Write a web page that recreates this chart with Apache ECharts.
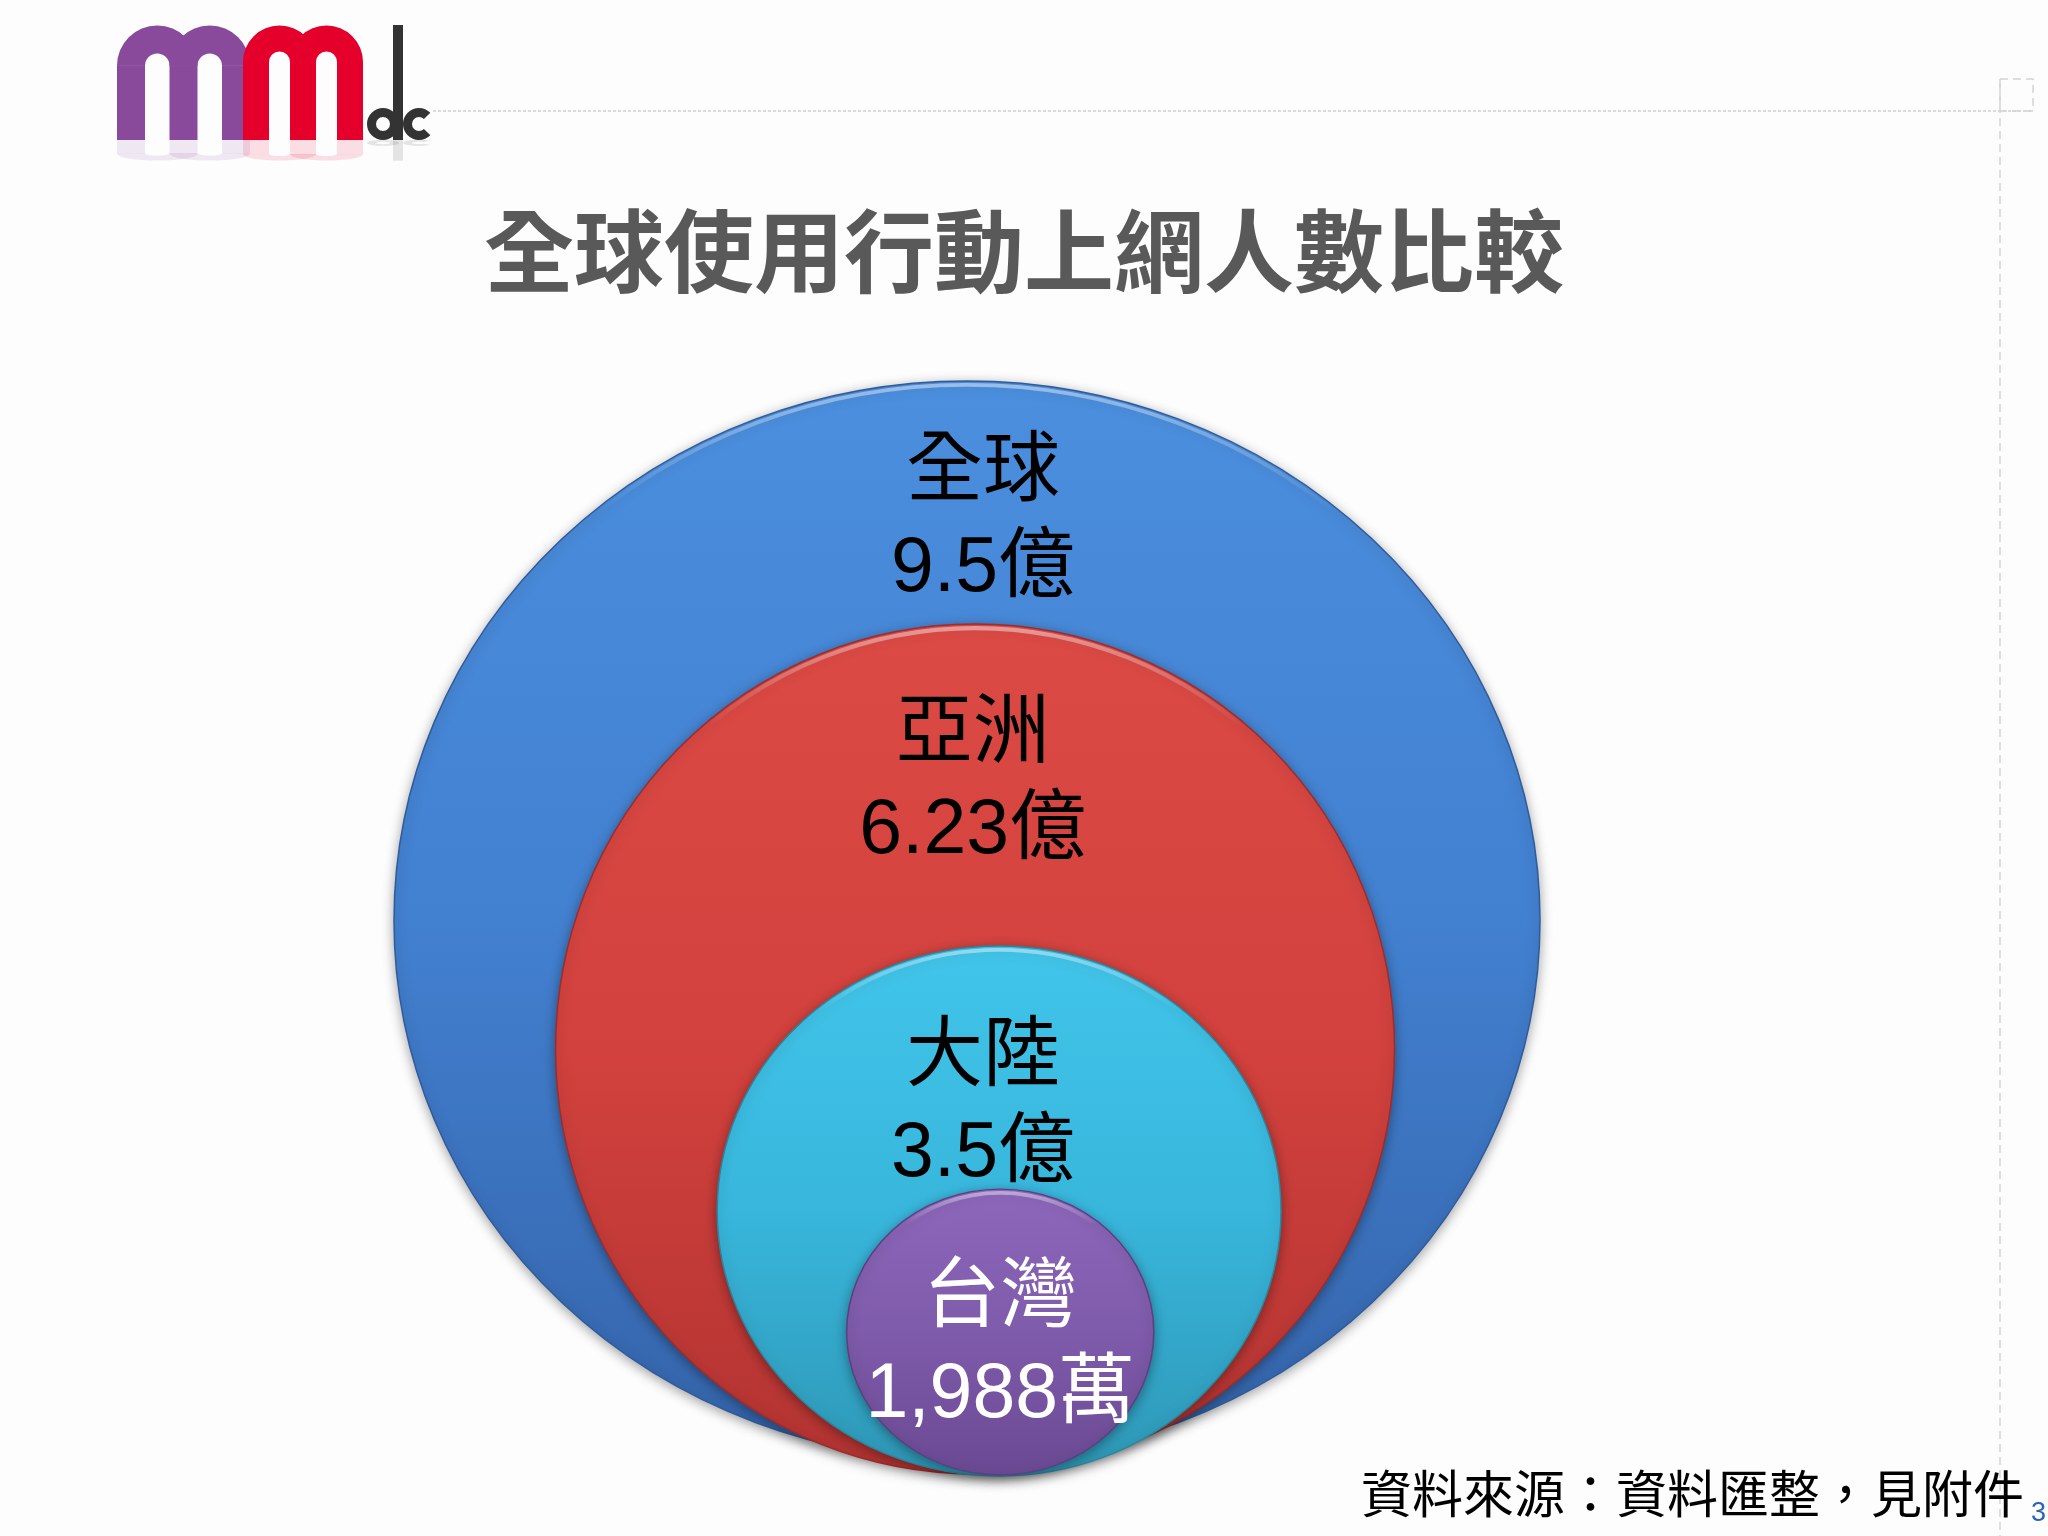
<!DOCTYPE html>
<html>
<head>
<meta charset="utf-8">
<title>全球使用行動上網人數比較</title>
<script src="https://cdn.jsdelivr.net/npm/echarts@6/dist/echarts.min.js"></script>
<style>
  html, body { margin: 0; padding: 0; background: #fdfdfd; }
  #main { width: 2048px; height: 1536px; }
</style>
</head>
<body>
<div id="main"></div>
<script>
// 資料
var regions = ['全球', '亞洲', '大陸', '台灣']
var users = [9.5, 6.23, 3.5, 0.1988] // 單位：億
var userLabels = ['9.5億', '6.23億', '3.5億', '1,988萬']

// 圓圈版面：外框座標 0~100（SmartArt 式同心圓，圓圈大小與數值無關）
var ringLayout = [
  { cx: 50, rx: 50, top: 100, bottom: 1.4, labelX: 51.4, labelY: 87.1 },
  { cx: 50.7, rx: 36.6, top: 77.8, bottom: 0.2, labelX: 50.5, labelY: 63.2 },
  { cx: 52.8, rx: 24.6, top: 48.4, bottom: 0, labelX: 51.4, labelY: 33.7 },
  { cx: 52.9, rx: 13.4, top: 26.2, bottom: 0.1, labelX: 52.9, labelY: 11.7 }
]
var ringColors = [
  ['#4b8fde', '#4280d0', '#3463a9', '#2f5b9c'],
  ['#dc4a45', '#d2413d', '#b23331', '#9e2c2a'],
  ['#41c5ea', '#38b6dc', '#2e97b6', '#2a869f'],
  ['#8d67bb', '#7f5bab', '#6a4993', '#5c3f82']
]
var textColors = ['#000', '#000', '#000', '#fff']

function renderRing (params, api) {
  var i = params.dataIndex
  var box = ringLayout[i]
  var c = ringColors[i]
  var p0 = api.coord([box.cx - box.rx, box.top])
  var p1 = api.coord([box.cx + box.rx, box.bottom])
  var lp = api.coord([box.labelX, box.labelY])
  var cx = (p0[0] + p1[0]) / 2
  var cy = (p0[1] + p1[1]) / 2
  var rx = (p1[0] - p0[0]) / 2
  var ry = (p1[1] - p0[1]) / 2
  return {
    type: 'group',
    children: [
      {
        type: 'circle',
        x: cx,
        y: cy,
        scaleY: ry / rx,
        shape: { cx: 0, cy: 0, r: rx },
        style: {
          fill: new echarts.graphic.LinearGradient(0, 0, 0, 1, [
            { offset: 0, color: c[0] },
            { offset: 0.5, color: c[1] },
            { offset: 1, color: c[2] }
          ]),
          stroke: c[3],
          lineWidth: 1.5,
          shadowBlur: 12,
          shadowColor: 'rgba(0,0,0,0.35)',
          shadowOffsetY: 3
        }
      },
      {
        type: 'circle',
        x: cx,
        y: cy,
        scaleY: ry / rx,
        shape: { cx: 0, cy: 0, r: rx - 4 },
        style: {
          fill: 'none',
          stroke: new echarts.graphic.LinearGradient(0, 0, 0, 1, [
            { offset: 0, color: 'rgba(255,255,255,0.45)' },
            { offset: 0.12, color: 'rgba(255,255,255,0)' },
            { offset: 1, color: 'rgba(255,255,255,0)' }
          ]),
          lineWidth: 4
        }
      },
      {
        type: 'text',
        x: lp[0],
        y: lp[1],
        style: {
          text: regions[i] + '\n' + userLabels[i],
          fill: textColors[i],
          fontSize: 77,
          fontFamily: '"Liberation Sans", "Noto Sans CJK TC", sans-serif',
          align: 'center',
          verticalAlign: 'middle',
          lineHeight: 96
        }
      }
    ]
  }
}

// 標誌裡的 m：三支腳加兩個拱
function mLetter (x0, y0, w, h, t, color, opacity) {
  var g = (w - 3 * t) / 2
  var cy = y0 + g / 2 + t
  var legs = [x0, x0 + (w - t) / 2, x0 + w - t]
  var els = legs.map(function (lx) {
    return { type: 'rect', shape: { x: lx, y: cy, width: t, height: y0 + h - cy }, style: { fill: color, opacity: opacity } }
  })
  ;[0, 1].forEach(function (k) {
    els.push({
      type: 'sector',
      shape: { cx: legs[k] + t + g / 2, cy: cy + 0.5, r0: g / 2, r: g / 2 + t, startAngle: Math.PI, endAngle: Math.PI * 2 },
      style: { fill: color, opacity: opacity }
    })
  })
  return els
}

function logoParts (opacity) {
  return [].concat(
    mLetter(117, 25, 133, 115, 28, '#8a4a9c', opacity),
    mLetter(243, 25, 120, 115, 26, '#e4002b', opacity),
    [
      { type: 'rect', shape: { x: 393, y: 25, width: 10, height: 115 }, style: { fill: '#333', opacity: opacity } },
      { type: 'ring', shape: { cx: 383, cy: 124, r: 16, r0: 7 }, style: { fill: '#333', opacity: opacity } },
      { type: 'sector', shape: { cx: 419, cy: 124, r: 16, r0: 7, startAngle: Math.PI / 4, endAngle: Math.PI * 7 / 4 }, style: { fill: '#333', opacity: opacity } }
    ]
  )
}

var logo = logoParts(1).concat([
  // 淡淡的倒影
  { type: 'group', y: 140 + 140 * 0.18, scaleY: -0.18, children: logoParts(0.12) }
])

var chartDom = document.getElementById('main')
var myChart = echarts.init(chartDom)
var option

option = {
  animation: false,
  backgroundColor: '#fdfdfd',
  title: {
    text: '全球使用行動上網人數比較',
    left: 'center',
    top: 194,
    textStyle: {
      fontSize: 90,
      fontWeight: 'bold',
      color: '#595959',
      fontFamily: '"Noto Sans CJK TC"',
      lineHeight: 104
    }
  },
  grid: { left: 394, top: 381, width: 1146, height: 1095 },
  xAxis: { type: 'value', min: 0, max: 100, show: false },
  yAxis: { type: 'value', min: 0, max: 100, show: false },
  graphic: logo.concat([
    { type: 'line', shape: { x1: 433, y1: 111, x2: 2032, y2: 111 }, style: { stroke: '#cfcfcf', lineWidth: 1.5, lineDash: [3, 2] } },
    { type: 'line', shape: { x1: 2000, y1: 79, x2: 2000, y2: 1536 }, style: { stroke: '#d4d4d4', lineWidth: 1.5, lineDash: [8, 5] } },
    { type: 'rect', shape: { x: 2000, y: 79, width: 33, height: 32 }, style: { fill: 'none', stroke: '#d4d4d4', lineWidth: 1.5, lineDash: [8, 5] } },
    {
      type: 'text',
      x: 2024,
      y: 1494,
      style: { text: '資料來源：資料匯整，見附件', fill: '#000', fontSize: 51, fontFamily: '"Noto Sans CJK TC"', align: 'right', verticalAlign: 'middle' }
    },
    {
      type: 'text',
      x: 2031,
      y: 1514,
      style: { text: '3', fill: '#2a64b8', fontSize: 27, fontFamily: '"Liberation Sans"', align: 'left', verticalAlign: 'middle' }
    }
  ]),
  series: [{
    type: 'custom',
    renderItem: renderRing,
    data: users.map(function (v, i) { return [i, v] }),
    silent: true
  }]
}

option && myChart.setOption(option)
window.addEventListener('resize', () => myChart.resize())
</script>
</body>
</html>
